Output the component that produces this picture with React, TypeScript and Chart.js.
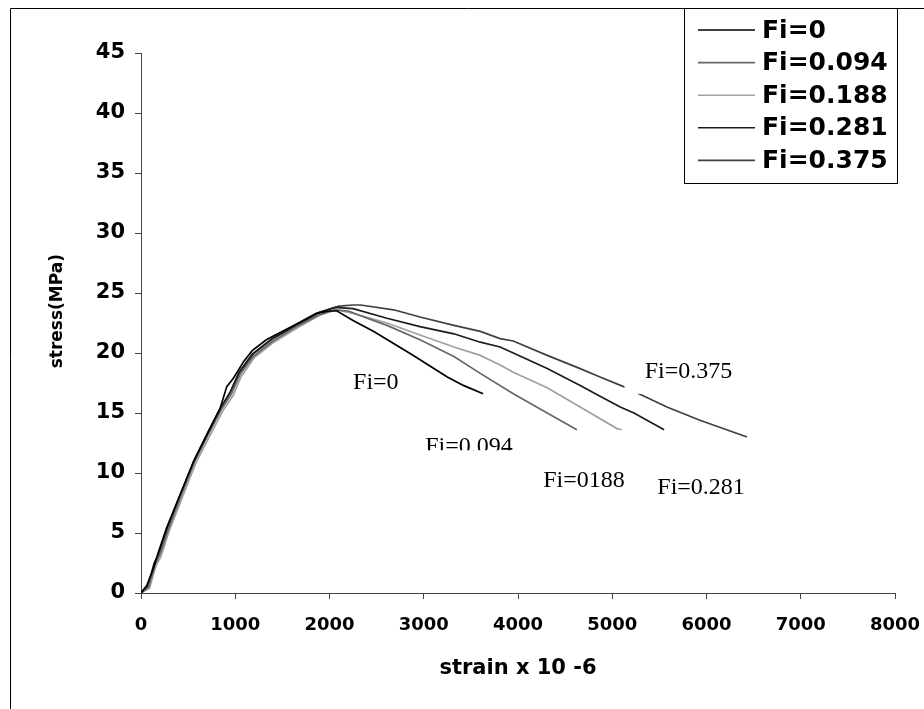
import React, { useEffect, useRef } from "react";
import { Chart, registerables } from "chart.js";

Chart.register(...registerables);

// ---- data ----
const seriesLabels = ["Fi=0", "Fi=0.094", "Fi=0.188", "Fi=0.281", "Fi=0.375"];

const fi0: [number, number][] = [
  [0, 0], [60, 0.6], [130, 2.0], [180, 3.3], [270, 5.4], [420, 8.3], [560, 11.0], [700, 13.2],
  [840, 15.4], [910, 17.2], [980, 17.9], [1090, 19.3], [1180, 20.2], [1330, 21.1], [1620, 22.3],
  [1860, 23.3], [2000, 23.5], [2080, 23.5], [2250, 22.7], [2470, 21.8], [2680, 20.8], [2890, 19.8],
  [3070, 18.9], [3250, 18.0], [3420, 17.3], [3630, 16.6],
];
const fi094: [number, number][] = [
  [0, 0], [80, 0.5], [150, 2.4], [200, 3.2], [290, 5.3], [430, 8.2], [570, 11.0], [720, 13.3],
  [860, 15.4], [960, 16.6], [1050, 18.2], [1190, 19.7], [1400, 21.0], [1650, 22.2], [1900, 23.2],
  [2050, 23.6], [2200, 23.5], [2400, 22.9], [2610, 22.3], [2960, 21.1], [3320, 19.7], [3600, 18.3],
  [3950, 16.6], [4310, 15.0], [4625, 13.6],
];
const fi188: [number, number][] = [
  [0, 0], [90, 0.4], [160, 2.3], [210, 3.0], [300, 5.2], [440, 8.0], [580, 10.8], [730, 13.1],
  [870, 15.2], [980, 16.5], [1060, 18.0], [1200, 19.6], [1410, 20.9], [1660, 22.1], [1910, 23.2],
  [2080, 23.6], [2250, 23.3], [2610, 22.5], [2960, 21.5], [3320, 20.5], [3600, 19.8], [3810, 19.0],
  [3950, 18.4], [4310, 17.1], [4660, 15.5], [5050, 13.7], [5100, 13.6],
];
const fi281: [number, number][] = [
  [0, 0], [70, 0.5], [140, 2.5], [190, 3.3], [280, 5.4], [420, 8.2], [560, 11.0], [710, 13.4],
  [850, 15.5], [950, 16.8], [1040, 18.4], [1180, 19.9], [1390, 21.2], [1640, 22.3], [1890, 23.4],
  [2060, 23.8], [2250, 23.7], [2610, 22.9], [2960, 22.2], [3320, 21.6], [3600, 20.9], [3810, 20.5],
  [3950, 20.0], [4310, 18.7], [4660, 17.3], [4870, 16.4], [5085, 15.5], [5230, 15.0], [5550, 13.6],
];
const fi375: [number, number][] = [
  [0, 0], [80, 0.6], [150, 2.6], [200, 3.4], [290, 5.4], [430, 8.3], [570, 11.0], [720, 13.4],
  [860, 15.5], [960, 16.9], [1050, 18.4], [1190, 19.9], [1400, 21.2], [1650, 22.3], [1900, 23.4],
  [2100, 23.9], [2250, 24.0], [2330, 24.0], [2680, 23.6], [2960, 23.0], [3320, 22.3], [3600, 21.8],
  [3810, 21.2], [3950, 21.0], [4310, 19.8], [4660, 18.7], [4870, 18.0], [5120, 17.2], [5255, 16.7],
  [5580, 15.5], [5930, 14.4], [6430, 13.0],
];

const xTicks = [0, 1000, 2000, 3000, 4000, 5000, 6000, 7000, 8000];
const yTicks = [0, 5, 10, 15, 20, 25, 30, 35, 40, 45];

const xTitle = "strain x 10 -6";
const yTitle = "stress(MPa)";

const curveLabels = ["Fi=0", "Fi=0.094", "Fi=0188", "Fi=0.281", "Fi=0.375"];

// ---- styles ----
const seriesColors = ["#000000", "#666666", "#a0a0a0", "#1c1c1c", "#404040"];
const SANS = "'DejaVu Sans', 'Liberation Sans', Arial, sans-serif";
const SERIF = "'Liberation Serif', 'Times New Roman', serif";

export default function App() {
  const ref = useRef<HTMLCanvasElement | null>(null);

  useEffect(() => {
    document.body.style.margin = "0";
    const canvas = ref.current;
    if (!canvas) return;

    const framePlugin = {
      id: "frame",
      beforeDraw(chart: any) {
        const ctx = chart.ctx;
        ctx.save();
        ctx.fillStyle = "#ffffff";
        ctx.fillRect(0, 0, chart.width, chart.height);
        ctx.strokeStyle = "#000000";
        ctx.lineWidth = 1;
        ctx.beginPath();
        ctx.moveTo(10.5, chart.height);
        ctx.lineTo(10.5, 8.5);
        ctx.lineTo(chart.width, 8.5);
        ctx.stroke();
        ctx.restore();
      },
    };

    const annotPlugin = {
      id: "annot",
      afterDatasetsDraw(chart: any) {
        const ctx = chart.ctx;
        const xs = chart.scales.x;
        const ys = chart.scales.y;
        const px = (v: number) => xs.getPixelForValue(v);
        const py = (v: number) => ys.getPixelForValue(v);
        // anchor (strain, stress) of left / baseline of each label
        const anchors: [number, number][] = [
          [2250, 17.0],
          [3015, 11.65],
          [4268, 8.85],
          [5478, 8.25],
          [5345, 17.9],
        ];
        ctx.save();
        ctx.font = `24px ${SERIF}`;
        ctx.textAlign = "left";
        ctx.textBaseline = "alphabetic";
        // text box of Fi=0.375 (white, hides part of the curve)
        ctx.fillStyle = "#ffffff";
        const bx0 = px(5130), bx1 = px(6320), by0 = py(19.8), by1 = py(16.6);
        ctx.fillRect(bx0, by0, bx1 - bx0, by1 - by0);
        ctx.fillStyle = "#000000";
        curveLabels.forEach((t, i) => {
          const [sx, sy] = anchors[i];
          const x = px(sx), y = py(sy);
          if (i === 1) {
            ctx.save();
            ctx.beginPath();
            ctx.rect(x - 5, y - 30, 100, 27);
            ctx.clip();
            ctx.fillText(t, x, y);
            ctx.restore();
          } else {
            ctx.fillText(t, x, y);
          }
        });
        ctx.restore();
      },
    };

    const legendPlugin = {
      id: "customLegend",
      afterDraw(chart: any) {
        const ctx = chart.ctx;
        ctx.save();
        const bx = 684.5, by = 8.5, bw = 213, bh = 175;
        ctx.fillStyle = "#ffffff";
        ctx.fillRect(bx, by, bw, bh);
        ctx.strokeStyle = "#000000";
        ctx.lineWidth = 1;
        ctx.strokeRect(bx, by, bw, bh);
        ctx.font = `bold 25px ${SANS}`;
        ctx.textAlign = "left";
        ctx.textBaseline = "middle";
        chart.data.datasets.forEach((ds: any, i: number) => {
          const y = 30 + i * 32.6;
          ctx.strokeStyle = ds.borderColor;
          ctx.lineWidth = 1.6;
          ctx.beginPath();
          ctx.moveTo(698, y);
          ctx.lineTo(755, y);
          ctx.stroke();
          ctx.fillStyle = "#000000";
          ctx.fillText(ds.label, 762, y + 1);
        });
        ctx.restore();
      },
    };

    const allSeries = [fi0, fi094, fi188, fi281, fi375];

    const chart = new Chart(canvas, {
      type: "line",
      data: {
        datasets: allSeries.map((s, i) => ({
          label: seriesLabels[i],
          data: s.map(([x, y]) => ({ x, y })),
          borderColor: seriesColors[i],
          backgroundColor: seriesColors[i],
          borderWidth: 1.7,
          pointRadius: 0,
          tension: 0,
          fill: false,
        })),
      },
      options: {
        animation: false,
        responsive: true,
        maintainAspectRatio: false,
        layout: { padding: { left: 10, top: 53, right: 29, bottom: 0 } },
        plugins: {
          legend: { display: false },
          tooltip: { enabled: false },
        },
        scales: {
          x: {
            type: "linear",
            min: 0,
            max: 8000,
            afterBuildTicks: (s: any) => {
              s.ticks = xTicks.map((v) => ({ value: v }));
            },
            afterFit: (s: any) => {
              s.height = 116;
              s.paddingLeft = 0;
              s.paddingRight = 0;
            },
            ticks: {
              color: "#000000",
              font: { family: SANS, size: 18, weight: "bold" },
              padding: 16,
              maxRotation: 0,
              autoSkip: false,
              callback: (v: any) => String(v),
            },
            grid: {
              drawOnChartArea: false,
              drawTicks: true,
              tickLength: 6,
              color: "#444444",
            },
            border: { color: "#444444", width: 1 },
            title: {
              display: true,
              text: xTitle,
              color: "#000000",
              font: { family: SANS, size: 21, weight: "bold" },
              padding: { top: 0, bottom: 28 },
            },
          },
          y: {
            type: "linear",
            min: 0,
            max: 45,
            afterBuildTicks: (s: any) => {
              s.ticks = yTicks.map((v) => ({ value: v }));
            },
            afterFit: (s: any) => {
              s.width = 131;
              s.paddingTop = 0;
              s.paddingBottom = 0;
            },
            ticks: {
              color: "#000000",
              font: { family: SANS, size: 21, weight: "bold" },
              padding: 10,
              autoSkip: false,
              callback: (v: any) => String(v),
            },
            grid: {
              drawOnChartArea: false,
              drawTicks: true,
              tickLength: 6,
              color: "#444444",
            },
            border: { color: "#444444", width: 1 },
            title: {
              display: true,
              text: "    " + yTitle,
              color: "#000000",
              font: { family: SANS, size: 17, weight: "bold" },
              padding: { top: 37, bottom: 0 },
            },
          },
        },
      },
      plugins: [framePlugin, annotPlugin, legendPlugin],
    } as any);

    return () => {
      chart.destroy();
    };
  }, []);

  return (
    <div style={{ width: 924, height: 709, position: "relative" }}>
      <canvas ref={ref} />
    </div>
  );
}
